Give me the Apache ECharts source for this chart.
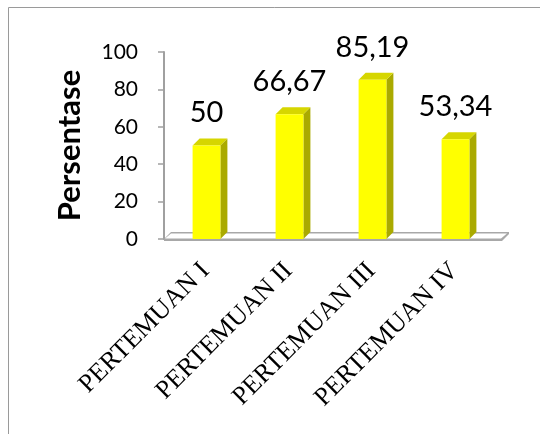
<!DOCTYPE html>
<html>
<head>
<meta charset="utf-8">
<script src="https://cdn.jsdelivr.net/npm/echarts@6/dist/echarts.min.js"></script>
<style>
html,body{margin:0;padding:0;background:#fff;}
#chart{width:540px;height:434px;}
</style>
</head>
<body>
<div id="chart"></div>
<script>
const categories = ['PERTEMUAN I', 'PERTEMUAN II', 'PERTEMUAN III', 'PERTEMUAN IV'];
const values = [50, 66.67, 85.19, 53.34];
const yTicks = [0, 20, 40, 60, 80, 100];
const yTitle = 'Persentase';

const chart = echarts.init(document.getElementById('chart'), null, {renderer: 'canvas'});
const D = 7; // 3D depth offset
const fmt = v => String(v).replace('.', ',');

const option = {
  animation: false,
  backgroundColor: '#fff',
  graphic: [{
    type: 'rect', z: -10,
    shape: {x: 8.5, y: 7.5, width: 700, height: 700},
    style: {fill: 'none', stroke: '#9a9a9a', lineWidth: 1}
  }],
  grid: {left: 164, right: 44, top: 52, bottom: 195, containLabel: false},
  xAxis: {
    type: 'category',
    data: categories,
    axisLine: {show: false},
    axisTick: {show: false},
    axisLabel: {
      rotate: 45, margin: 28, interval: 0,
      fontFamily: 'Liberation Serif', fontSize: 26, color: '#000'
    }
  },
  yAxis: {
    type: 'value',
    min: yTicks[0], max: yTicks[yTicks.length - 1], interval: 20,
    name: yTitle, nameLocation: 'middle', nameRotate: 90, nameGap: 79,
    nameTextStyle: {fontFamily: 'Lato', fontWeight: 'bold', fontSize: 31, color: '#000'},
    axisLine: {show: true, lineStyle: {color: '#a0a0a0', width: 2}},
    axisTick: {show: true, length: 6, lineStyle: {color: '#a0a0a0', width: 1.5}},
    axisLabel: {margin: 26, fontFamily: 'Lato', fontSize: 21, color: '#000'},
    splitLine: {show: false}
  },
  series: [
    {
      type: 'custom',
      z: 1,
      data: [[0, 0]],
      silent: true,
      renderItem: function (params, api) {
        const cs = params.coordSys;
        const y0 = api.coord([0, 0])[1];
        const xl = cs.x, xr = cs.x + cs.width + 6;
        return {
          type: 'group',
          children: [
            {type: 'polygon', shape: {points: [[xl, y0 + 2], [xr, y0 + 2], [xr + D, y0 - 5], [xr + D, y0 - 7], [xl + D, y0 - 7], [xl, y0]]},
             style: {fill: '#a8a8a8', stroke: 'none'}},
            {type: 'polygon', shape: {points: [[xl + 1, y0 - 0.5], [xr - 1, y0 - 0.5], [xr + D - 2, y0 - 5.5], [xl + D, y0 - 5.5]]},
             style: {fill: '#ffffff', stroke: 'none'}}
          ]
        };
      }
    },
    {
      type: 'custom',
      z: 2,
      data: values.map((v, i) => [i, v]),
      renderItem: function (params, api) {
        const cat = api.value(0), val = api.value(1);
        const p0 = api.coord([cat, 0]);
        const p1 = api.coord([cat, val]);
        const bw = api.size([1, 0])[0] * 0.335;
        const x = p0[0] - bw / 2 + 1;
        const yb = p0[1], yt = p1[1];
        return {
          type: 'group',
          children: [
            {type: 'polygon', shape: {points: [[x + bw, yt], [x + bw + D, yt - D], [x + bw + D, yb - D], [x + bw, yb]]},
             style: {fill: '#aaaa00'}},
            {type: 'polygon', shape: {points: [[x, yt], [x + D, yt - D], [x + bw + D, yt - D], [x + bw, yt]]},
             style: {fill: '#d6d600'}},
            {type: 'rect', shape: {x: x, y: yt, width: bw, height: yb - yt},
             style: {fill: '#ffff00'}},
            {type: 'text', style: {text: fmt(val), x: x + bw / 2, y: yt - 18, align: 'center', verticalAlign: 'bottom',
              font: '29px Lato', fill: '#000'}}
          ]
        };
      }
    }
  ]
};
chart.setOption(option);
</script>
</body>
</html>
